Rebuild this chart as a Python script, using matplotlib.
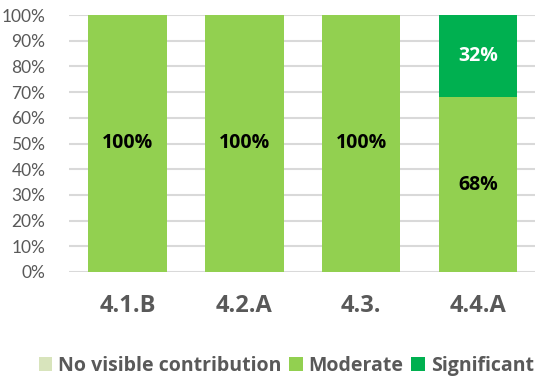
import matplotlib
matplotlib.use("Agg")
import matplotlib.pyplot as plt
from matplotlib.ticker import PercentFormatter
import numpy as np

categories = ["4.1.B", "4.2.A", "4.3.", "4.4.A"]
series_names = ["No visible contribution", "Moderate", "Significant"]
no_visible = [0, 0, 0, 0]
moderate = [100, 100, 100, 68]
significant = [0, 0, 0, 32]
yticks = [0, 10, 20, 30, 40, 50, 60, 70, 80, 90, 100]

colors = ["#D8E4BC", "#92D050", "#00B050"]
label_colors = ["#000000", "#000000", "#FFFFFF"]

plt.rcParams["font.family"] = ["Open Sans", "DejaVu Sans"]

fig = plt.figure(figsize=(5.35, 3.83), dpi=100)
ax = fig.add_axes([69 / 535, 1 - 272 / 383, 1 - 69 / 535 + 0.003, 257 / 383])

x = np.arange(len(categories))
width = 0.67
bottom = np.zeros(len(categories))
handles = []
for name, vals, col, lc in zip(series_names, [no_visible, moderate, significant], colors, label_colors):
    vals = np.array(vals, dtype=float)
    bars = ax.bar(x, vals, width, bottom=bottom, color=col, label=name, zorder=2)
    for xi, v, b in zip(x, vals, bottom):
        if v > 0:
            ax.text(xi, b + v / 2, f"{v:.0f}%", ha="center", va="center",
                    fontsize=14, fontweight="bold", color=lc, zorder=3)
    bottom += vals
    handles.append(bars)

ax.set_xlim(-0.5, len(categories) - 0.5)
ax.set_ylim(0, 100)
ax.set_yticks(yticks)
ax.yaxis.set_major_formatter(PercentFormatter(decimals=0))
ax.grid(axis="y", color="#D9D9D9", linewidth=1.5, zorder=0)
ax.set_axisbelow(True)
for s in ax.spines.values():
    s.set_visible(False)
ax.tick_params(axis="both", length=0)
ax.tick_params(axis="y", labelsize=12.5, labelcolor="#595959", pad=17)
for lbl in ax.get_yticklabels():
    lbl.set_family(["Lato", "DejaVu Sans"])
ax.set_xticks(x)
ax.set_xticklabels(categories, fontsize=17, fontweight="bold", color="#595959")
ax.tick_params(axis="x", pad=16)

leg = fig.legend(handles=handles, labels=series_names, loc="center",
                 bbox_to_anchor=(0.535, 1 - 366 / 383), ncol=3, frameon=False,
                 prop={"size": 14, "weight": "bold"}, handlelength=0.7,
                 handleheight=0.7, handletextpad=0.3, columnspacing=0.4)
for t in leg.get_texts():
    t.set_color("#595959")

fig.savefig("out.png", dpi=100)
